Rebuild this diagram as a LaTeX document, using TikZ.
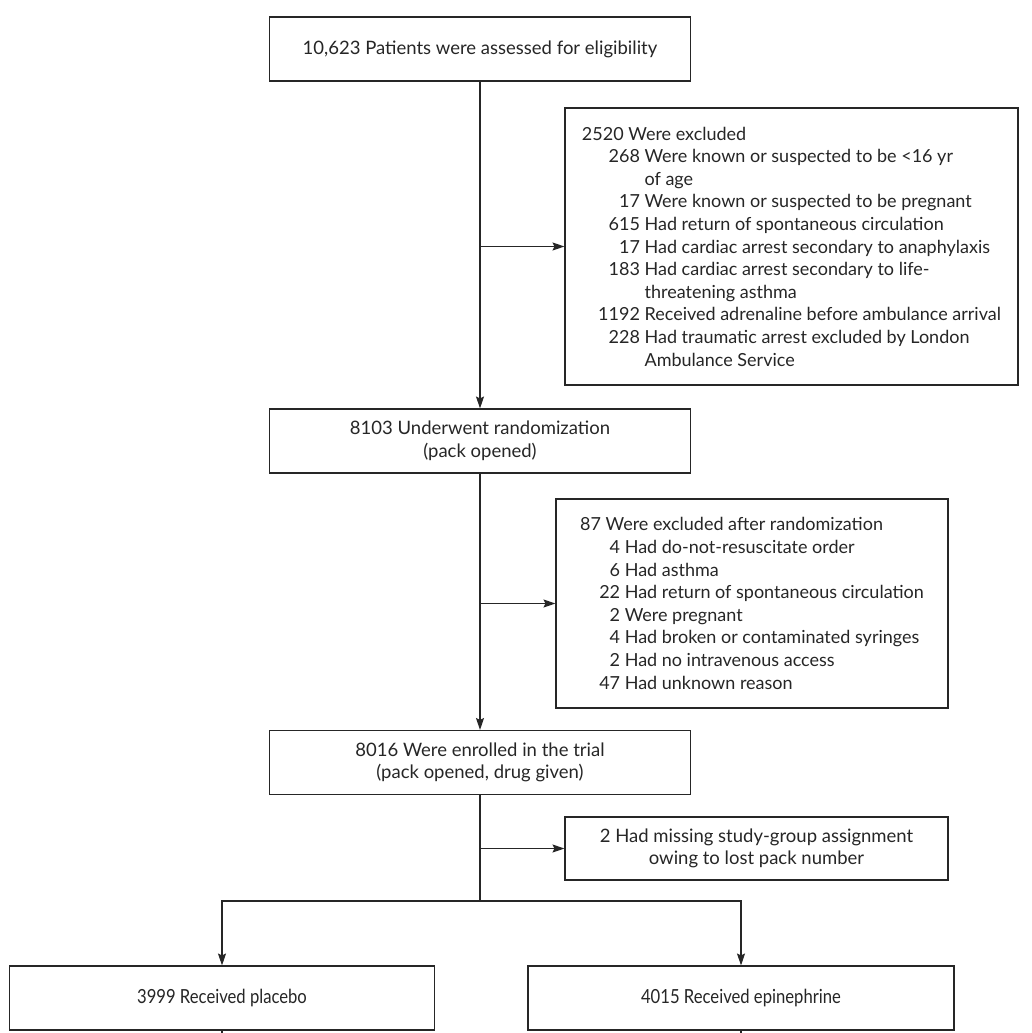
\documentclass[tikz,border=0pt]{standalone}
\usepackage{fontspec}
\setmainfont{Lato}
\usetikzlibrary{arrows.meta}
\definecolor{ink}{HTML}{262626}
\newcommand{\itmA}[2]{\makebox[58pt][r]{#1}\ #2}
\newcommand{\contA}[1]{\makebox[58pt]{}\ #1}
\newcommand{\itmB}[2]{\makebox[40pt][r]{#1}\ #2}
\newcommand{\narrowtext}[1]{\scalebox{0.9}[1.05]{#1}}
\begin{document}
\begin{tikzpicture}[x=1pt,y=-1pt,
  every node/.style={text=ink,font=\fontsize{18.5}{22.5}\selectfont},
  mainbox/.style={draw=ink,line width=1.1pt,minimum width=421pt,minimum height=64pt,align=center,inner sep=0pt},
  exbox/.style={draw=ink,line width=1.1pt,align=left,inner sep=0pt,font=\fontsize{18}{22.6}\selectfont},
  conn/.style={draw=ink,line width=1.1pt},
  arr/.style={conn,-{Stealth[length=12pt,width=8pt,inset=2pt]}}]
\useasboundingbox (0,0) rectangle (1032,1033);
\fill[white] (0,0) rectangle (1032,1033);

\node[mainbox] (assess) at (480,49) {10,623 Patients were assessed for eligibility};

\node[exbox,minimum width=453pt,minimum height=277pt] (ex1) at (791.5,246.5) {%
2520 Were excluded\\
\itmA{268}{Were known or suspected to be <16 yr}\\
\contA{of age}\\
\itmA{17}{Were known or suspected to be pregnant}\\
\itmA{615}{Had return of spontaneous circulation}\\
\itmA{17}{Had cardiac arrest secondary to anaphylaxis}\\
\itmA{183}{Had cardiac arrest secondary to life-}\\
\contA{threatening asthma}\\
\itmA{1192}{Received adrenaline before ambulance arrival}\\
\itmA{228}{Had traumatic arrest excluded by London}\\
\contA{Ambulance Service}\hspace*{2pt}};

\node[mainbox] (rand) at (480,441) {8103 Underwent randomization\\(pack opened)};

\node[exbox,minimum width=392pt,minimum height=209pt] (ex2) at (752,603.5) {%
87 Were excluded after randomization\\
\itmB{4}{Had do-not-resuscitate order}\\
\itmB{6}{Had asthma}\\
\itmB{22}{Had return of spontaneous circulation}\\
\itmB{2}{Were pregnant}\\
\itmB{4}{Had broken or contaminated syringes}\\
\itmB{2}{Had no intravenous access}\\
\itmB{47}{Had unknown reason}};

\node[mainbox] (enrol) at (480,762.5) {8016 Were enrolled in the trial\\(pack opened, drug given)};

\node[exbox,align=center,minimum width=383pt,minimum height=63pt,font=\fontsize{18.5}{21.5}\selectfont] (ex3) at (756.5,848.5) {2 Had missing study-group assignment\\owing to lost pack number};

\coordinate (split) at (480,901);

\node[mainbox,minimum width=425pt,minimum height=64pt,font=\fontsize{18.5}{20}\selectfont] (plac) at (222,998) {\narrowtext{3999 Received placebo}};
\node[mainbox,minimum width=426pt,minimum height=64pt,font=\fontsize{18.5}{20}\selectfont] (epi) at (741,998) {\narrowtext{4015 Received epinephrine}};

\draw[arr] (assess.south) -- (rand.north);
\draw[arr] (assess.south |- ex1.west) -- (ex1.west);
\draw[arr] (rand.south) -- (enrol.north);
\draw[arr] (rand.south |- ex2.west) -- (ex2.west);
\draw[conn] (enrol.south) -- (split);
\draw[arr] (enrol.south |- ex3.west) -- (ex3.west);
\draw[arr] (split) -| (plac.north);
\draw[arr] (split) -| (epi.north);
\draw[conn] (plac.south) -- ++(0,6);
\draw[conn] (epi.south) -- ++(0,6);
\end{tikzpicture}
\end{document}
